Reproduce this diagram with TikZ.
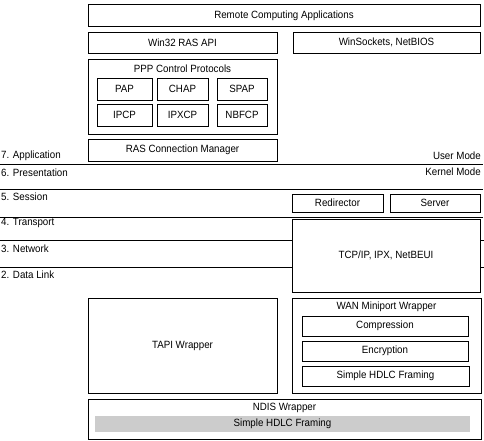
\documentclass[tikz,border=0pt]{standalone}
\usepackage{fontspec}
\setmainfont[FakeStretch=0.93]{Liberation Sans}
\begin{document}
\begin{tikzpicture}[x=1pt,y=-1pt,
  every node/.style={font=\fontsize{10.5}{12}\selectfont, inner sep=0pt},
  box/.style={draw, line width=1pt, rectangle},
  layer/.style={line width=1pt},
  lbl/.style={anchor=west},
  rlbl/.style={anchor=east},
  greybar/.style={fill=black!20, rectangle}]
\useasboundingbox (0,0) rectangle (484,440);
% top stack
\node[box, minimum width=392, minimum height=22] (remote) at (284,15.5) {Remote Computing Applications};
\node[box, minimum width=189, minimum height=21] (win32) at (182.5,42.5) {Win32 RAS API};
\node[box, minimum width=187, minimum height=21] (winsock) at (386.5,42.5) {WinSockets, NetBIOS};
\node[box, minimum width=189, minimum height=75] (ppp) at (182.5,96.5) {};
\node (ppptitle) at (182.5,69) {PPP Control Protocols};
\node[box, minimum width=55, minimum height=22] (pap) at (124.5,89) {PAP};
\node[box, minimum width=51, minimum height=22] (chap) at (182.5,89) {CHAP};
\node[box, minimum width=50, minimum height=22] (spap) at (242,89) {SPAP};
\node[box, minimum width=55, minimum height=22] (ipcp) at (124.5,115) {IPCP};
\node[box, minimum width=51, minimum height=22] (ipxcp) at (182.5,115) {IPXCP};
\node[box, minimum width=50, minimum height=22] (nbfcp) at (242,115) {NBFCP};
\node[box, minimum width=189, minimum height=22] (rascm) at (182.5,150) {RAS Connection Manager};
% layer lines
\coordinate (l1a) at (0,164); \coordinate (l1b) at (483,164);
\coordinate (l2a) at (0,189); \coordinate (l2b) at (483,189);
\coordinate (l3a) at (0,217); \coordinate (l3b) at (483,217);
\coordinate (l4a) at (0,240); \coordinate (l4b) at (292,240);
\coordinate (l4c) at (480,240); \coordinate (l4d) at (484,240);
\coordinate (l5a) at (0,267); \coordinate (l5b) at (292,267);
\coordinate (l5c) at (480,267); \coordinate (l5d) at (484,267);
\draw[layer] (l1a) -- (l1b);
\draw[layer] (l2a) -- (l2b);
\draw[layer] (l3a) -- (l3b);
\draw[layer] (l4a) -- (l4b);
\draw[layer] (l4c) -- (l4d);
\draw[layer] (l5a) -- (l5b);
\draw[layer] (l5c) -- (l5d);
% layer labels
\node[lbl] (app) at (1,156) {7. Application};
\node[lbl] (pres) at (1,173) {6. Presentation};
\node[lbl] (sess) at (1,197) {5. Session};
\node[lbl] (trans) at (1,223) {4. Transport};
\node[lbl] (net) at (1,249) {3. Network};
\node[lbl] (dl) at (1,275) {2. Data Link};
\node[rlbl] (user) at (481,156) {User Mode};
\node[rlbl] (kernel) at (481,172) {Kernel Mode};
% kernel components
\node[box, minimum width=91, minimum height=18] (redir) at (337.5,203) {Redirector};
\node[box, minimum width=90, minimum height=18] (server) at (435,203) {Server};
\node[box, fill=white, minimum width=188, minimum height=73] (tcp) at (386,255.5) {TCP/IP, IPX, NetBEUI};
\node[box, minimum width=189, minimum height=95] (tapi) at (182.5,345.5) {TAPI Wrapper};
\node[box, minimum width=189, minimum height=95] (wan) at (386.5,345.5) {};
\node (wantitle) at (386.5,307) {WAN Miniport Wrapper};
\node[box, minimum width=166, minimum height=20] (comp) at (385,326) {Compression};
\node[box, minimum width=166, minimum height=20] (enc) at (385,351) {Encryption};
\node[box, minimum width=167, minimum height=20] (hdlc) at (385.5,376) {Simple HDLC Framing};
\node[box, minimum width=393, minimum height=40] (ndis) at (284.5,419) {};
\node (ndistitle) at (284.5,407.5) {NDIS Wrapper};
\node[greybar, minimum width=375, minimum height=16] (hdlc2) at (282.5,424) {Simple HDLC Framing};
\end{tikzpicture}
\end{document}
